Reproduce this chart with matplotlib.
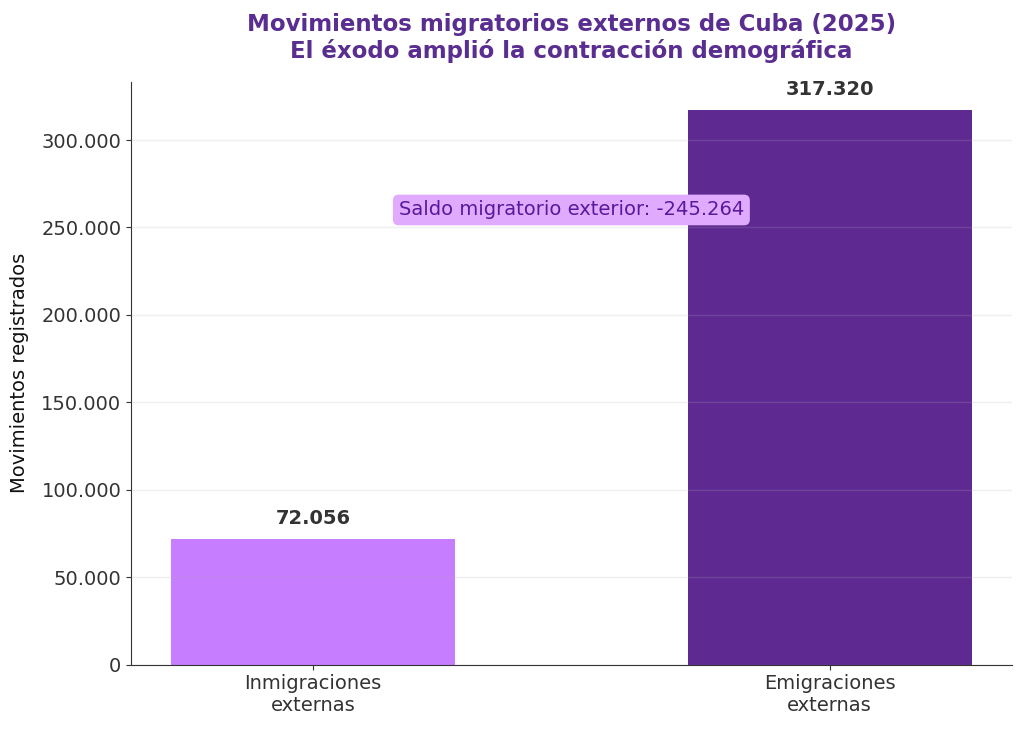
import matplotlib
matplotlib.use("Agg")
import matplotlib.pyplot as plt
from matplotlib.ticker import FuncFormatter

plt.rcParams["font.family"] = ["DejaVu Sans"]

categories = ["Inmigraciones\nexternas", "Emigraciones\nexternas"]
values = [72056, 317320]
bar_colors = ["#C77DFF", "#5E2A92"]
saldo = values[0] - values[1]


def miles(v):
    return f"{int(round(v)):,}".replace(",", ".")


fig, ax = plt.subplots(figsize=(10.24, 7.32), dpi=100)
bars = ax.bar(range(len(values)), values, width=0.55, color=bar_colors)
ax.set_xticks(range(len(values)))
ax.set_xticklabels(categories, fontsize=14, color="#111111")
ax.set_ylim(0, max(values) * 1.05)
ax.yaxis.set_major_formatter(FuncFormatter(lambda v, p: miles(v)))
ax.tick_params(axis="y", labelsize=14, labelcolor="#111111")
ax.tick_params(colors="#333333")
ax.set_ylabel("Movimientos registrados", fontsize=14, color="#111111",
              labelpad=9)
ax.grid(axis="y", color="#b0b0b0", lw=1.0, alpha=0.2)
ax.set_axisbelow(False)
for s in ["top", "right"]:
    ax.spines[s].set_visible(False)
for s in ["left", "bottom"]:
    ax.spines[s].set_color("#333333")

for b, v in zip(bars, values):
    ax.annotate(miles(v), (b.get_x() + b.get_width() / 2, v),
                xytext=(0, 8), textcoords="offset points",
                ha="center", va="bottom", fontsize=14, fontweight="bold",
                color="#333333")

ax.text(0.5, 260000, f"Saldo migratorio exterior: {miles(saldo)}",
        ha="center", va="center", fontsize=14, color="#5A189A",
        bbox=dict(boxstyle="round,pad=0.3", fc="#E0AAFF", ec="none"))

ax.set_title("Movimientos migratorios externos de Cuba (2025)\n"
             "El éxodo amplió la contracción demográfica",
             fontsize=16.5, fontweight="bold", color="#5A2D91", pad=17)

fig.subplots_adjust(left=0.128, right=0.988, top=0.888, bottom=0.092)
fig.savefig("out.png", dpi=100)
